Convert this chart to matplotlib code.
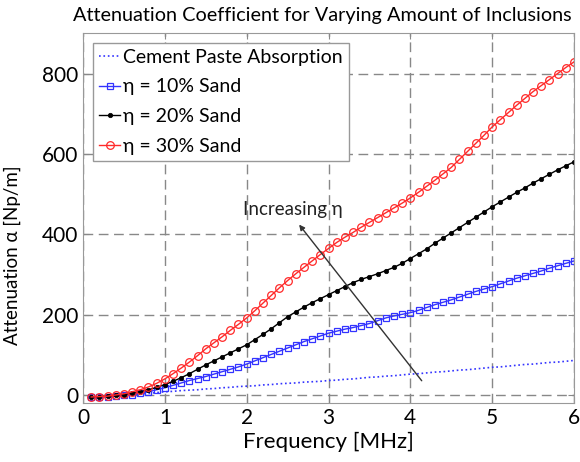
import matplotlib
matplotlib.use("Agg")
import matplotlib.pyplot as plt
import numpy as np

plt.rcParams['font.family'] = ['Lato', 'DejaVu Sans']

freq = [round(0.1 * i, 1) for i in range(1, 61)]

cement = [-4, -4, -3, -2, -1, 1, 2, 4, 6, 8,
          9, 11, 12, 13, 15, 16, 18, 19, 21, 22,
          23, 25, 26, 28, 29, 30, 32, 33, 34, 36,
          37, 39, 40, 42, 44, 45, 47, 48, 50, 52,
          53, 55, 57, 58, 60, 62, 63, 65, 67, 69,
          70, 72, 74, 76, 77, 79, 81, 82, 84, 86]

sand10 = [-5, -5, -4, -3, -1, 1, 4, 8, 13, 18,
          24, 30, 36, 41, 46, 52, 58, 64, 70, 77,
          85, 93, 101, 109, 117, 125, 133, 140, 147, 154,
          159, 164, 168, 173, 178, 185, 192, 197, 201, 205,
          211, 218, 225, 231, 237, 244, 251, 258, 264, 270,
          277, 284, 291, 297, 303, 309, 316, 322, 328, 334]

sand20 = [-5, -4, -3, -1, 1, 4, 8, 13, 19, 26,
          34, 43, 53, 64, 75, 85, 95, 105, 115, 125,
          138, 151, 165, 180, 195, 207, 219, 230, 240, 250,
          260, 270, 280, 288, 295, 302, 310, 318, 328, 340,
          352, 364, 378, 391, 404, 417, 430, 443, 456, 469,
          481, 493, 505, 516, 528, 539, 550, 561, 571, 581]

sand30 = [-5, -4, -3, 0, 3, 8, 13, 20, 29, 40,
          53, 67, 82, 98, 115, 130, 145, 161, 176, 192,
          210, 229, 248, 267, 285, 302, 318, 334, 350, 365,
          380, 393, 405, 418, 430, 442, 454, 466, 478, 491,
          505, 520, 535, 551, 567, 587, 607, 627, 647, 668,
          686, 704, 722, 739, 756, 771, 786, 801, 816, 830]

labels = ['Cement Paste Absorption', 'η = 10% Sand', 'η = 20% Sand', 'η = 30% Sand']
xticks = [0, 1, 2, 3, 4, 5, 6]
yticks = [0, 200, 400, 600, 800]

fig = plt.figure(figsize=(5.8, 4.62), dpi=100)
ax = fig.add_axes([83/580, 1 - 403/462, (574-83)/580, (403-33)/462])

ax.plot(freq, cement, color='#3333ff', linestyle=':', linewidth=1.2, label=labels[0])
ax.plot(freq, sand10, color='#3333ff', linewidth=1.0, marker='s', markersize=4.5,
        markerfacecolor='none', markeredgewidth=0.9, label=labels[1])
ax.plot(freq, sand20, color='black', linewidth=1.0, marker='o', markersize=3.2,
        markerfacecolor='black', markeredgewidth=0.5, label=labels[2])
ax.plot(freq, sand30, color='#ff2a2a', linewidth=1.0, marker='o', markersize=5.5,
        markerfacecolor='none', markeredgewidth=0.9, label=labels[3])

ax.set_xlim(0, 6)
ax.set_ylim(-20, 902)
ax.set_xticks(xticks)
ax.set_yticks(yticks)
ax.grid(True, color='#888888', linestyle=(0, (7, 4)), linewidth=1.0)
ax.tick_params(axis='both', labelsize=15, direction='in', length=4, color='#888888',
               top=True, right=True)
for s in ax.spines.values():
    s.set_color('#999999')

ax.set_xlabel('Frequency [MHz]', fontsize=16, labelpad=3)
ax.set_ylabel('Attenuation α [Np/m]', fontsize=13.5)
ax.yaxis.set_label_coords(-0.126, 0.40)
fig.text(322/580, 1 - 16/462, 'Attenuation Coefficient for Varying Amount of Inclusions',
         fontsize=14.3, ha='center', va='center')

ax.annotate('', xy=(2.62, 430), xytext=(4.16, 30),
            arrowprops=dict(arrowstyle='-|>', color='#333333', lw=1.0, mutation_scale=8))
ax.text(2.57, 462, 'Increasing η', fontsize=13.5, ha='center', va='center', color='#222222')

leg = ax.legend(loc='upper left', bbox_to_anchor=(10/491, 1 - 10/370), fontsize=14,
                handlelength=1.1, handletextpad=0.15, borderpad=0.3, labelspacing=0.65,
                fancybox=False, framealpha=1, edgecolor='#999999', borderaxespad=0.0)

fig.savefig('out.png', dpi=100)
